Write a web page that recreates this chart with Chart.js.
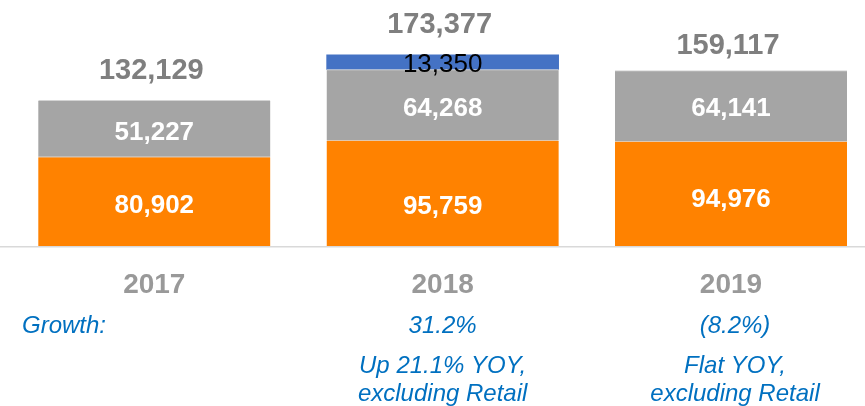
<!DOCTYPE html>
<html>
<head>
<meta charset="utf-8">
<script src="https://cdn.jsdelivr.net/npm/chart.js@4/dist/chart.umd.min.js"></script>
<style>
  html, body { margin: 0; padding: 0; background: #ffffff; overflow: hidden; }
  #wrap { width: 865px; height: 406px; }
</style>
</head>
<body>
<div id="wrap"><canvas id="c" width="865" height="406"></canvas></div>
<script>
const categories = ['2017', '2018', '2019'];
const coreValues = [80902, 95759, 94976];
const otherValues = [51227, 64268, 64141];
const retailValues = [null, 13350, null];
const growthTitle = 'Growth:';
const growthLabels = ['', '31.2%', '(8.2%)'];
const noteLine1 = ['', 'Up 21.1% YOY,', 'Flat YOY,'];
const noteLine2 = ['', 'excluding Retail', 'excluding Retail'];

const FONT = '"Liberation Sans", Arial, Helvetica, sans-serif';

function toPoints(arr) {
  return arr.map((v, i) => ({ x: i, y: v }));
}
function fmt(n) {
  return n.toLocaleString('en-US');
}

const labelPlugin = {
  id: 'labelPlugin',
  afterDatasetsDraw(chart) {
    const ctx = chart.ctx;
    const area = chart.chartArea;
    const xs = chart.scales.x;
    const opts = chart.options.plugins.labelPlugin;
    ctx.save();
    // baseline axis line
    ctx.strokeStyle = '#d9d9d9';
    ctx.lineWidth = 1.5;
    ctx.beginPath();
    ctx.moveTo(0, area.bottom + 0.75);
    ctx.lineTo(chart.width, area.bottom + 0.75);
    ctx.stroke();

    ctx.textAlign = 'center';
    ctx.textBaseline = 'middle';
    // segment labels
    chart.data.datasets.forEach((ds, di) => {
      const meta = chart.getDatasetMeta(di);
      const shifts = opts.segmentShifts[di];
      meta.data.forEach((el, i) => {
        const v = ds.data[i].y;
        if (v == null) return;
        const cy = (el.y + el.base) / 2 + shifts[i];
        if (ds.labelStyle === 'dark') {
          ctx.fillStyle = '#000000';
          ctx.font = '26px ' + FONT;
        } else {
          ctx.fillStyle = '#ffffff';
          ctx.font = 'bold 26px ' + FONT;
        }
        ctx.fillText(fmt(v), el.x, cy);
      });
    });

    // totals above bars
    const offs = opts.totalOffsets;
    ctx.textBaseline = 'alphabetic';
    ctx.font = 'bold 29px ' + FONT;
    ctx.fillStyle = '#7f7f7f';
    categories.forEach((c, i) => {
      let total = 0;
      chart.data.datasets.forEach(ds => { total += ds.data[i].y || 0; });
      const x = xs.getPixelForValue(i);
      const y = chart.scales.y.getPixelForValue(total);
      ctx.fillText(fmt(total), x - 3, y - offs[i]);
    });

    // year labels
    ctx.font = 'bold 28px ' + FONT;
    ctx.fillStyle = '#999999';
    categories.forEach((c, i) => {
      ctx.fillText(c, xs.getPixelForValue(i), 293);
    });

    // growth rows
    ctx.font = 'italic 24px ' + FONT;
    ctx.fillStyle = '#0070c0';
    ctx.textAlign = 'left';
    ctx.fillText(growthTitle, 22, 333);
    ctx.textAlign = 'center';
    categories.forEach((c, i) => {
      const x = xs.getPixelForValue(i) + (i === 2 ? 4 : 0);
      if (growthLabels[i]) ctx.fillText(growthLabels[i], x, 333);
      if (noteLine1[i]) ctx.fillText(noteLine1[i], x, 373);
      if (noteLine2[i]) ctx.fillText(noteLine2[i], x, 401);
    });
    ctx.restore();
  }
};

const chart = new Chart(document.getElementById('c'), {
  type: 'bar',
  data: {
    datasets: [
      {
        label: 'Core',
        data: toPoints(coreValues),
        backgroundColor: '#ff8200',
        borderColor: '#e0c8b0',
        borderWidth: { top: 1, left: 0, right: 0, bottom: 0 },
        borderSkipped: false,
        labelStyle: 'light'
      },
      {
        label: 'Other',
        data: toPoints(otherValues),
        backgroundColor: '#a5a5a5',
        borderColor: '#d4d4d4',
        borderWidth: { top: 1, left: 0, right: 0, bottom: 0 },
        borderSkipped: false,
        labelStyle: 'light'
      },
      {
        label: 'Retail',
        data: toPoints(retailValues),
        backgroundColor: '#4472c4',
        borderWidth: 0,
        labelStyle: 'dark'
      }
    ]
  },
  options: {
    responsive: false,
    animation: false,
    devicePixelRatio: 1,
    layout: { padding: { left: 0, right: 0, top: 0, bottom: 160 } },
    barThickness: 232,
    scales: {
      x: {
        type: 'linear',
        display: false,
        offset: false,
        grid: { offset: false },
        stacked: true,
        min: -0.5351,
        max: 2.4647
      },
      y: {
        display: false,
        stacked: true,
        min: 0,
        max: 223000
      }
    },
    plugins: {
      legend: { display: false },
      tooltip: { enabled: false },
      labelPlugin: {
        totalOffsets: [21, 22, 16],
        segmentShifts: [[4, 14, 6], [4, 4, 3], [0, 3, 0]]
      }
    }
  },
  plugins: [labelPlugin]
});
</script>
</body>
</html>
